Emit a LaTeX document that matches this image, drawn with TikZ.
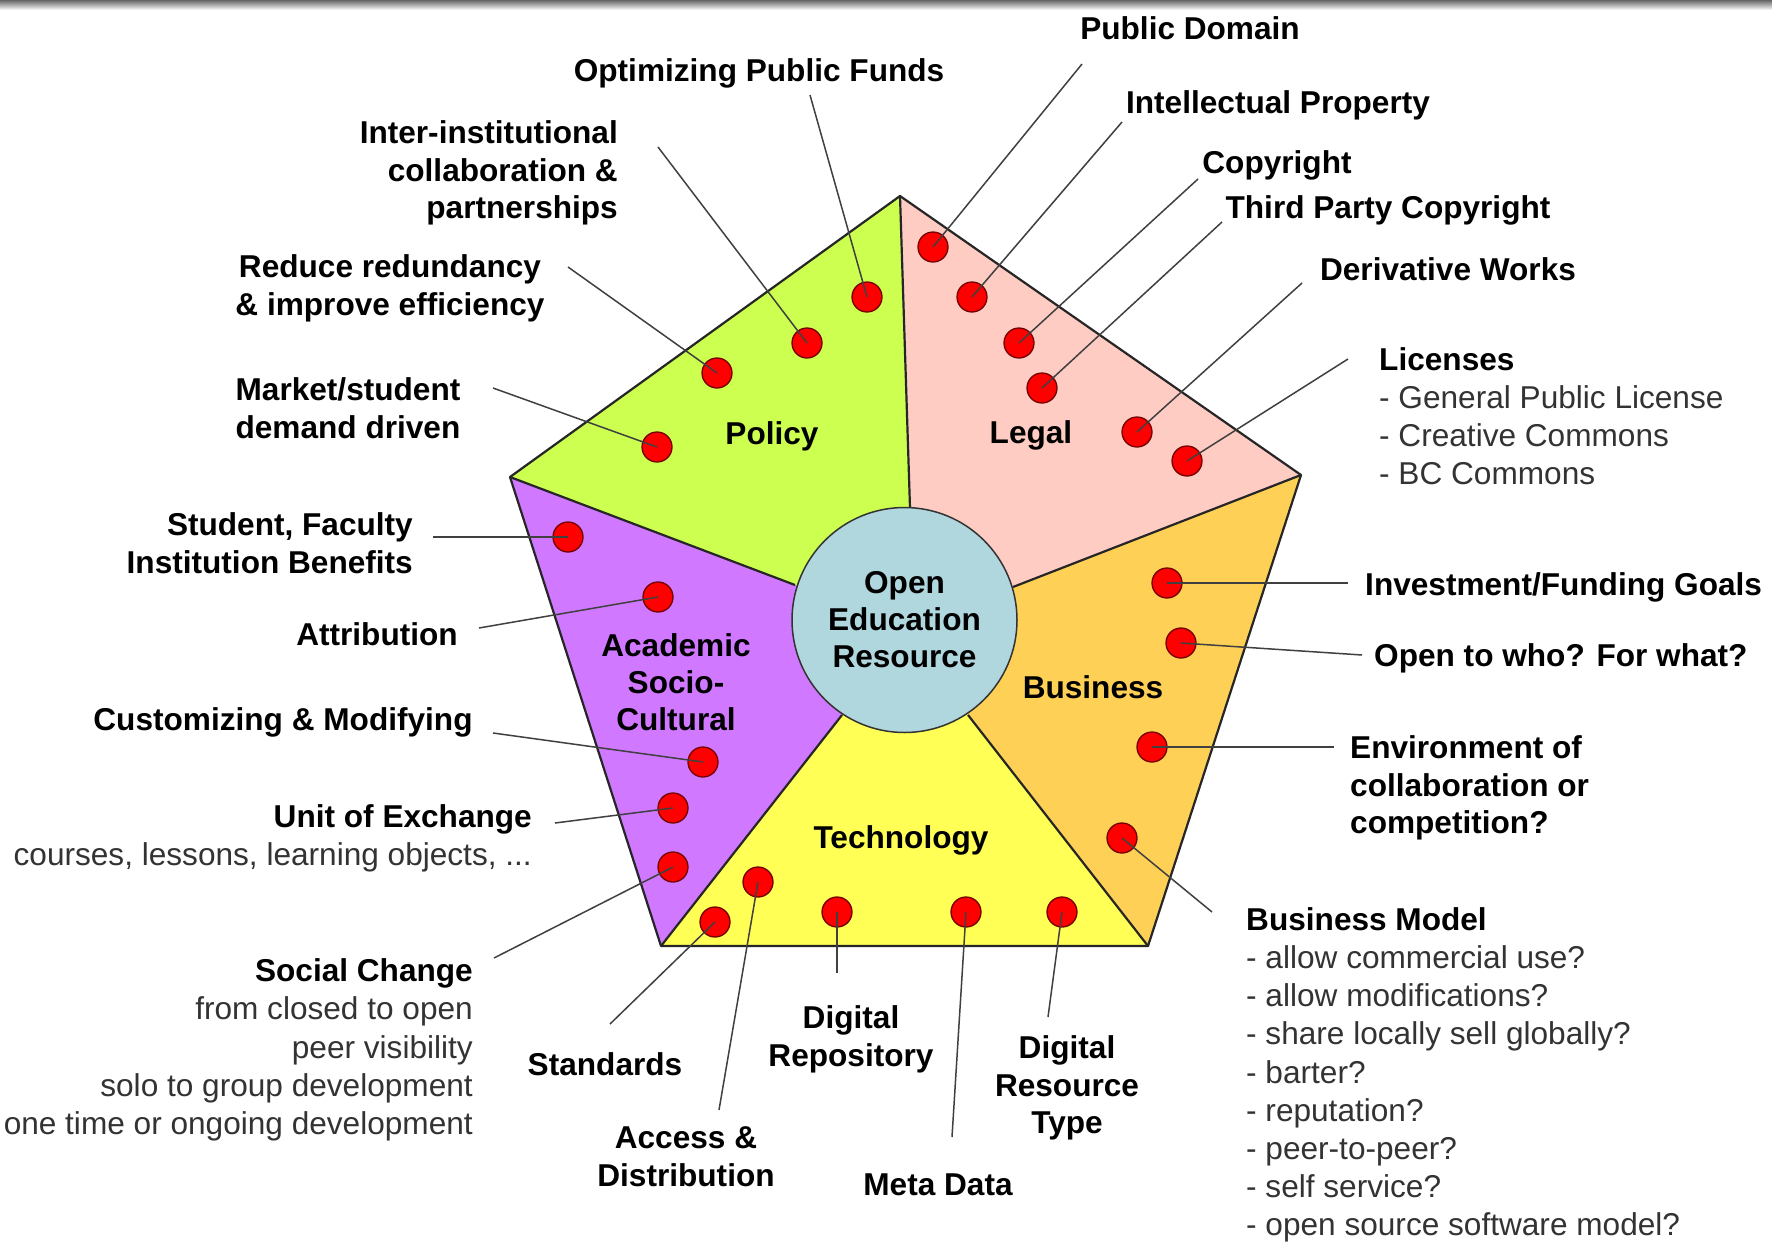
\documentclass[tikz,border=0pt]{standalone}
\usepackage{fontspec}
\setmainfont{Liberation Sans}
\begin{document}
\begin{tikzpicture}[x=1pt,y=-1pt,
  lab/.style={inner sep=0pt, yshift=-3pt, font={\fontsize{31.6}{37.8}\selectfont\bfseries}, text=black},
  blk/.style={inner sep=0pt, yshift=-3pt, align=left, font={\fontsize{31.6}{38.2}\selectfont}, text=black!80},
  inl/.style={inner sep=0pt, yshift=-3pt, font={\fontsize{31.6}{37.3}\selectfont\bfseries}, text=black},
  dot/.style={circle, fill=red, draw=red!45!black, line width=1.3pt, minimum size=30pt, inner sep=0pt},
  conn/.style={draw=black!75, line width=1.5pt},
  edge/.style={draw=black!85, line width=2.2pt, line join=round},
]
\definecolor{policyc}{RGB}{204,255,80}
\definecolor{legalc}{RGB}{255,204,196}
\definecolor{busc}{RGB}{254,208,85}
\definecolor{techc}{RGB}{255,255,85}
\definecolor{acadc}{RGB}{208,120,255}
\definecolor{hubc}{RGB}{176,214,222}
\fill[white] (0,0) rectangle (1772,1245);
\useasboundingbox (0,0) rectangle (1772,1245);
\shade[top color=black!60, bottom color=black!6] (0,0) rectangle (1772,9);

% pentagon geometry
\coordinate (vt) at (900,196);
\coordinate (vr) at (1301,475);
\coordinate (vbr) at (1148,946);
\coordinate (vbl) at (661,946);
\coordinate (vl) at (510,477);
\coordinate (c) at (904.5,620);
\coordinate (ct) at (910,508);
\coordinate (cl) at (795,585);
\coordinate (cr) at (1013,587);
\coordinate (cbl) at (842,715);
\coordinate (cbr) at (968,715);

\fill[policyc] (vl) -- (vt) -- (ct) -- (c) -- (cl) -- cycle;
\fill[legalc] (vt) -- (vr) -- (cr) -- (c) -- (ct) -- cycle;
\fill[busc] (vr) -- (vbr) -- (cbr) -- (c) -- (cr) -- cycle;
\fill[techc] (vbr) -- (vbl) -- (cbl) -- (c) -- (cbr) -- cycle;
\fill[acadc] (vbl) -- (vl) -- (cl) -- (c) -- (cbl) -- cycle;
\draw[edge] (vt) -- (vr) -- (vbr) -- (vbl) -- (vl) -- cycle;
\draw[edge] (vt) -- (ct);
\draw[edge] (vl) -- (cl);
\draw[edge] (vr) -- (cr);
\draw[edge] (vbl) -- (cbl);
\draw[edge] (vbr) -- (cbr);

\node[circle, fill=hubc, draw=black!80, line width=1.5pt, minimum size=225pt, inner sep=0pt,
  align=center, font={\fontsize{31.6}{37}\selectfont\bfseries}] (oer) at (c) {Open\\Education\\Resource};

% sector labels
\node[inl] (sPol) at (772,433) {Policy};
\node[inl] (sLeg) at (1031,432) {Legal};
\node[inl, align=center] (sAca) at (676,679) {Academic\\Socio-\\Cultural};
\node[inl] (sBus) at (1093,684) {Business};
\node[inl] (sTec) at (901,837) {Technology};

% dots
\node[dot] (p1) at (867,297) {};
\node[dot] (p2) at (807,343) {};
\node[dot] (p3) at (717,373) {};
\node[dot] (p4) at (657,447) {};
\node[dot] (l1) at (933,247) {};
\node[dot] (l2) at (972,297) {};
\node[dot] (l3) at (1019,343) {};
\node[dot] (l4) at (1042,388) {};
\node[dot] (l5) at (1137,432) {};
\node[dot] (l6) at (1187,461) {};
\node[dot] (b1) at (1167,583) {};
\node[dot] (b2) at (1181,643) {};
\node[dot] (b3) at (1152,747) {};
\node[dot] (b4) at (1122,838) {};
\node[dot] (t1) at (715,922) {};
\node[dot] (t2) at (758,882) {};
\node[dot] (t3) at (837,912) {};
\node[dot] (t4) at (966,912) {};
\node[dot] (t5) at (1062,912) {};
\node[dot] (a1) at (568,537) {};
\node[dot] (a2) at (658,597) {};
\node[dot] (a3) at (703,762) {};
\node[dot] (a4) at (673,808) {};
\node[dot] (a5) at (673,867) {};

% free ends of connectors
\coordinate (p1e) at (810,95);
\coordinate (p2e) at (658,147);
\coordinate (p3e) at (568,267);
\coordinate (p4e) at (493,388);
\coordinate (l1e) at (1082,64);
\coordinate (l2e) at (1122,122);
\coordinate (l3e) at (1198,179);
\coordinate (l4e) at (1222,222);
\coordinate (l5e) at (1302,283);
\coordinate (l6e) at (1348,359);
\coordinate (b1e) at (1348,583);
\coordinate (b2e) at (1362,655);
\coordinate (b3e) at (1334,747);
\coordinate (b4e) at (1212,912);
\coordinate (t1e) at (610,1024);
\coordinate (t2e) at (719,1110);
\coordinate (t3e) at (837,973);
\coordinate (t4e) at (952,1137);
\coordinate (t5e) at (1048,1017);
\coordinate (a1e) at (433,537);
\coordinate (a2e) at (479,628);
\coordinate (a3e) at (493,733);
\coordinate (a4e) at (555,823);
\coordinate (a5e) at (494,958);

\foreach \d in {p1,p2,p3,p4,l1,l2,l3,l4,l5,l6,b1,b2,b3,b4,t1,t2,t3,t4,t5,a1,a2,a3,a4,a5}
  \draw[conn] (\d e) -- (\d.center);

% outer labels
\node[lab] (tPD) at (1190,25) {Public Domain};
\node[lab] (tIP) at (1278,102) {Intellectual Property};
\node[lab] (tCR) at (1277,162) {Copyright};
\node[lab] (tTP) at (1388,207) {Third Party Copyright};
\node[lab] (tDW) at (1448,266) {Derivative Works};
\node[blk, anchor=west] (tLic) at (1379,413) {{\bfseries\color{black}Licenses}\\- General Public License\\- Creative Commons\\- BC Commons};
\node[lab, anchor=west] (tIF) at (1365,584) {Investment/Funding Goals};
\node[lab, anchor=west] (tOW) at (1374,655) {Open to who? For what?};
\node[lab, align=left, anchor=west] (tEn) at (1350,785) {Environment of\\collaboration or\\competition?};
\node[blk, anchor=west] (tBM) at (1246,1072) {{\bfseries\color{black}Business Model}\\- allow commercial use?\\- allow modifications?\\- share locally sell globally?\\- barter?\\- reputation?\\- peer-to-peer?\\- self service?\\- open source software model?};

\node[lab] (tOPF) at (759,70) {Optimizing Public Funds};
\node[lab, align=right, anchor=east] (tII) at (618,170) {Inter-institutional\\collaboration \&\\partnerships};
\node[lab, align=center] (tRR) at (390,285) {Reduce redundancy\\\& improve efficiency};
\node[lab, align=center] (tMS) at (348,405) {Market/student\\demand driven};
\node[lab, align=right, anchor=east] (tSF) at (413,540) {Student, Faculty\\Institution Benefits};
\node[lab] (tAt) at (377,631) {Attribution};
\node[lab] (tCM) at (283,719) {Customizing \& Modifying};
\node[blk, align=right, anchor=east] (tUE) at (532,835) {{\bfseries\color{black}Unit of Exchange}\\courses, lessons, learning objects, ...};
\node[blk, align=right, anchor=east] (tSC) at (473,1047) {{\bfseries\color{black}Social Change}\\from closed to open\\peer visibility\\solo to group development\\one time or ongoing development};

\node[lab] (tSt) at (605,1061) {Standards};
\node[lab, align=center] (tAD) at (686,1154) {Access \&\\Distribution};
\node[lab, align=center] (tDR) at (851,1036) {Digital\\Repository};
\node[lab] (tMD) at (938,1182) {Meta Data};
\node[lab, align=center] (tDRT) at (1067,1085) {Digital\\Resource\\Type};
\end{tikzpicture}
\end{document}
